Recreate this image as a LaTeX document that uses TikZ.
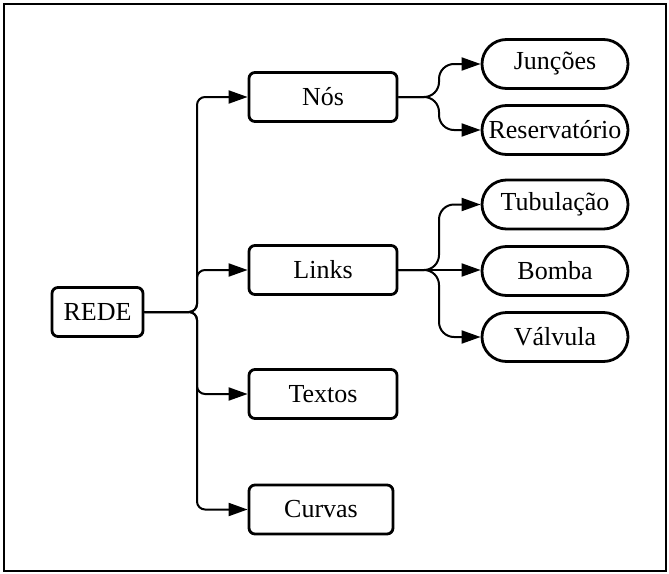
\documentclass[tikz,border=0pt]{standalone}
\usepackage{fontspec}
\setmainfont{Liberation Serif}
\usetikzlibrary{arrows.meta}
\begin{document}
\begin{tikzpicture}[x=1pt,y=-1pt,
  every node/.style={font=\fontsize{26}{30}\selectfont, inner sep=0pt},
  box/.style={draw, line width=2.8pt, rounded corners=6pt, minimum height=49pt},
  pill/.style={draw, line width=2.8pt, rounded corners=24.5pt, minimum width=146pt, minimum height=49pt},
  conn/.style={line width=2pt, -{Triangle[length=19pt,width=13pt]}},
  trunk/.style={conn, rounded corners=8pt},
  branch/.style={conn, rounded corners=15pt}]
\useasboundingbox (0,0) rectangle (669,573);
\draw[line width=2.5pt] (4,4) rectangle (666,571);

% root and first level
\node[box, minimum width=91pt] (rede) at (97.5,312) {REDE};
\node[box, minimum width=148pt] (nos) at (323,97) {Nós};
\node[box, minimum width=148pt] (links) at (323,270) {Links};
\node[box, minimum width=148pt] (textos) at (323,394) {Textos};
\node[box, minimum width=144pt] (curvas) at (321,509.5) {Curvas};

% second level
\node[pill] (jun) at (555,64) {Junções};
\node[pill] (res) at (555,130) {Reservatório};
\node[pill] (tub) at (555,204.5) {Tubulação};
\node[pill] (bom) at (555,271) {Bomba};
\node[pill] (val) at (555,337) {Válvula};

% split points
\coordinate (hub) at (197,312);
\coordinate (nsplit) at (439,97);
\coordinate (lsplit) at (439,270);

% trunk from the root
\draw[trunk] (rede.east) -- (hub) |- (nos.west);
\draw[trunk] (rede.east) -- (hub) |- (links.west);
\draw[trunk] (rede.east) -- (hub) |- (textos.west);
\draw[trunk] (rede.east) -- (hub) |- (curvas.west);

% branches of Nós
\draw[branch] (nos.east) -- (nsplit) |- (jun.west);
\draw[branch] (nos.east) -- (nsplit) |- (res.west);

% branches of Links
\draw[branch] (links.east) -- (lsplit) |- (tub.west);
\draw[conn] (links.east) -- (links.east -| bom.west);
\draw[branch] (links.east) -- (lsplit) |- (val.west);
\end{tikzpicture}
\end{document}
